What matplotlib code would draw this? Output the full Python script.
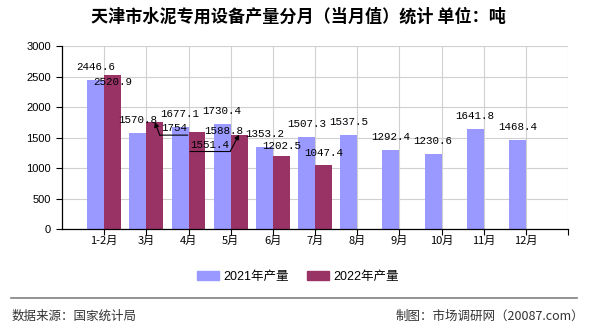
import matplotlib.pyplot as plt
import matplotlib.transforms as mtransforms
from matplotlib.patches import Patch
from matplotlib.lines import Line2D

plt.rcParams['font.family'] = ['Liberation Sans', 'Noto Sans CJK SC', 'DejaVu Sans']

# 天津市水泥专用设备产量（吨）
months = ['1-2月', '3月', '4月', '5月', '6月', '7月', '8月', '9月', '10月', '11月', '12月']
prod_2021 = [2446.6, 1570.8, 1677.1, 1730.4, 1353.2, 1507.3, 1537.5, 1292.4, 1230.6, 1641.8, 1468.4]
prod_2022 = [2520.9, 1754, 1588.8, 1551.4, 1202.5, 1047.4]

c2021 = '#9999ff'
c2022 = '#993366'
num_font = ['Liberation Mono', 'DejaVu Sans Mono']

fig = plt.figure(figsize=(5.9, 3.3), dpi=100)
ax = fig.add_axes([62 / 590, 1 - 229.3 / 330, 506 / 590, 183.3 / 330])

x = list(range(len(months)))
w = 0.4
ax.bar([i - w / 2 for i in x], prod_2021, width=w, color=c2021)
ax.bar([i + w / 2 for i in range(len(prod_2022))], prod_2022, width=w, color=c2022)

ax.set_xlim(-1, 11)
ax.set_ylim(0, 3000)
ax.set_xticks(range(0, 12))
ax.set_xticklabels(months + [''], fontsize=8, family=['Noto Sans CJK SC'])
ax.set_yticks(range(0, 3001, 500))
ax.tick_params(axis='y', labelsize=8, length=4, pad=4)
ax.tick_params(axis='x', length=4, pad=1)
ax.grid(True, color='#d0d0d0', lw=0.8)
ax.set_axisbelow(True)
for s in ['top', 'right']:
    ax.spines[s].set_visible(False)
for s in ['left', 'bottom']:
    ax.spines[s].set_linewidth(0.9)

PX = 0.72  # points per pixel


def label(xv, yv, txt, dx=0.0, dy=13.0):
    ax.annotate(txt, xy=(xv, yv), xytext=(dx * PX, dy * PX), textcoords='offset points',
                ha='center', va='center', fontsize=7.8, family=num_font)


def callout(xv, yv, txt, kx, ky, length):
    # diagonal leader with arrow head, then a horizontal underline below the value
    ax.annotate('', xy=(xv, yv), xytext=(kx * PX, ky * PX), textcoords='offset points',
                arrowprops=dict(arrowstyle='-|>', color='black', lw=0.8,
                                shrinkA=0, shrinkB=0, mutation_scale=7))
    knee = mtransforms.offset_copy(ax.transData, fig, x=kx * PX, y=ky * PX, units='points')
    ax.annotate('', xy=(xv, yv), xycoords=knee, xytext=(length * PX, 0), textcoords='offset points',
                arrowprops=dict(arrowstyle='-', color='black', lw=0.8, shrinkA=0, shrinkB=0))
    ax.annotate(txt, xy=(xv, yv), xytext=((kx + length / 2) * PX, (ky + 7) * PX),
                textcoords='offset points', ha='center', va='center',
                fontsize=7.8, family=num_font)


for i, v in enumerate(prod_2021):
    label(i - w / 2, v, f'{v:g}')

label(0 + w / 2, prod_2022[0], f'{prod_2022[0]:g}', dy=-7)
callout(1 + w / 2, prod_2022[1], f'{prod_2022[1]:g}', 5, -13, 28)
label(2 + w / 2, prod_2022[2], f'{prod_2022[2]:g}', dx=26.5, dy=1.7)
callout(3 + w / 2, prod_2022[3], f'{prod_2022[3]:g}', -9, -17, -40)
label(4 + w / 2, prod_2022[4], f'{prod_2022[4]:g}', dy=10)
label(5 + w / 2, prod_2022[5], f'{prod_2022[5]:g}', dy=12)

fig.text(0.505, 1 - 17 / 330, '天津市水泥专用设备产量分月（当月值）统计 单位：吨',
         ha='center', va='center', fontsize=12.3, fontweight='bold',
         family=['Noto Sans CJK SC'])

handles = [Patch(color=c2021, label='2021年产量'), Patch(color=c2022, label='2022年产量')]
fig.legend(handles=handles, loc='center', bbox_to_anchor=(0.505, 1 - 277 / 330), ncol=2,
           frameon=False, fontsize=9, handlelength=1.75, handleheight=0.65,
           handletextpad=0.35, columnspacing=1.4)

fig.add_artist(Line2D([11 / 590, 577 / 590], [1 - 298 / 330] * 2, color='#808080', lw=1.2))
fig.text(12 / 590, 1 - 316 / 330, '数据来源：国家统计局', ha='left', va='center',
         fontsize=9, color='#333333', family=['Noto Sans CJK SC'])
fig.text(584 / 590, 1 - 316 / 330, '制图：市场调研网（20087.com）', ha='right', va='center',
         fontsize=9, color='#333333', family=['Noto Sans CJK SC'])

fig.savefig('out.png', dpi=100)
